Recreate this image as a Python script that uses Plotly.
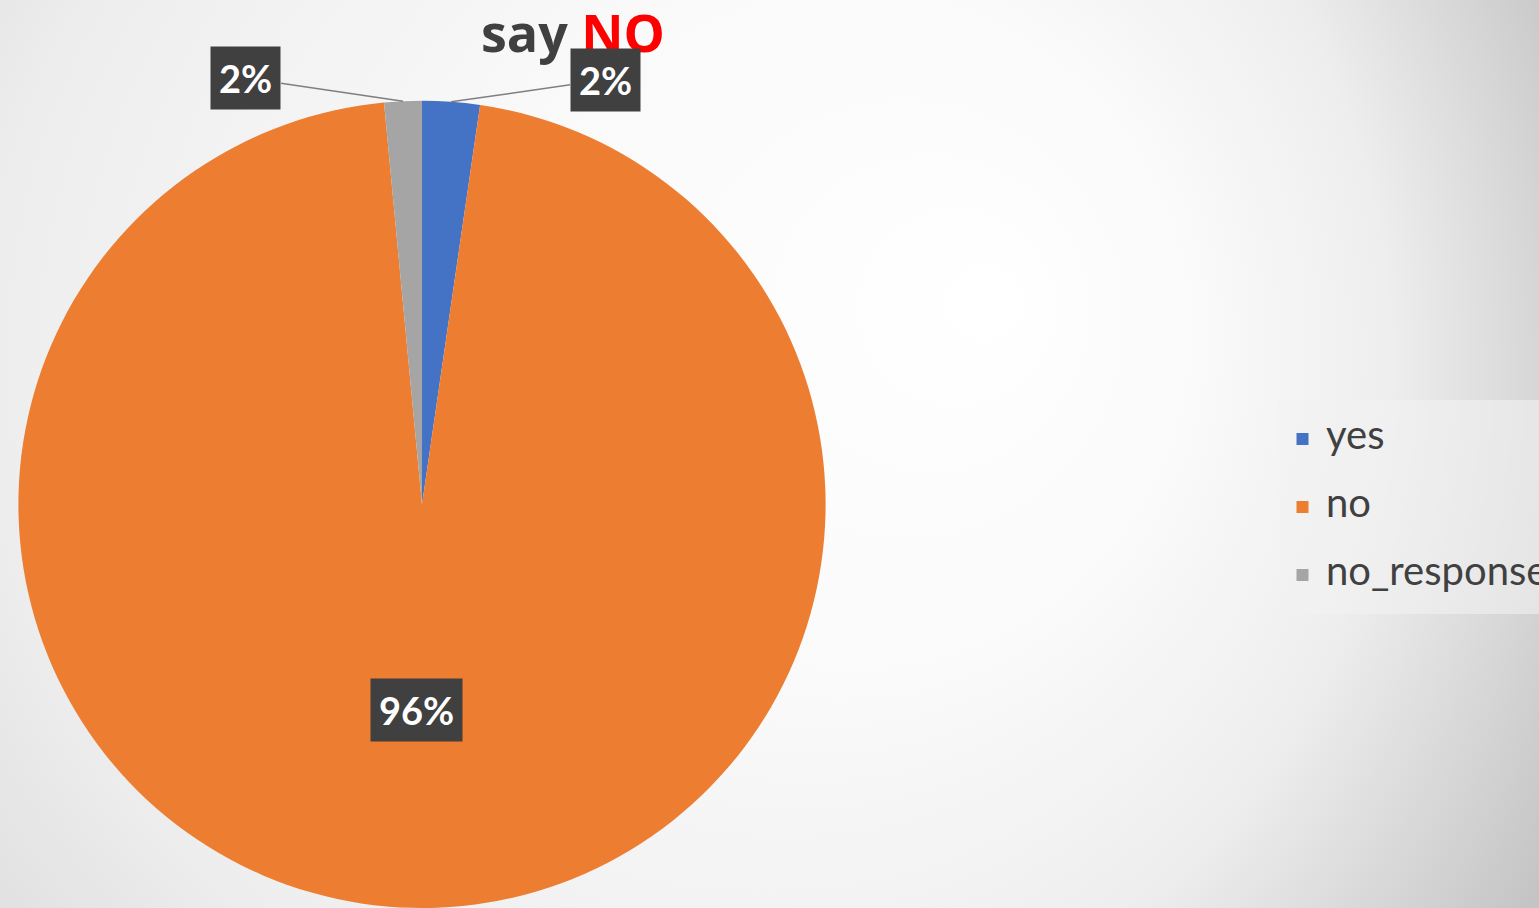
import base64
import math
import plotly.graph_objects as go

# ---- data ----
labels = ["yes", "no", "no_response"]
values = [2.3, 96.2, 1.5]
colors = ["#4472C4", "#ED7D31", "#A5A5A5"]
title_left = "say"
title_right = "NO"

W, H = 1539, 908

# pie geometry (pixels) used for domain and label anchoring
pie_left, pie_right = 17, 827
pie_bottom_paper, pie_top_paper = 0.0, 0.889
cx_px = (pie_left + pie_right) / 2
cy_px = H - (pie_bottom_paper + pie_top_paper) / 2 * H
r_px = min(pie_right - pie_left, (pie_top_paper - pie_bottom_paper) * H) / 2

# background gradient
svg = f"""<svg xmlns='http://www.w3.org/2000/svg' width='{W}' height='{H}' viewBox='0 0 {W} {H}'>
<defs><radialGradient id='g' gradientUnits='userSpaceOnUse' cx='500' cy='400' r='1150' fx='1000' fy='300'>
<stop offset='0' stop-color='#ffffff'/>
<stop offset='0.3' stop-color='#fafafa'/>
<stop offset='0.6' stop-color='#eeeeee'/>
<stop offset='0.85' stop-color='#d4d4d4'/>
<stop offset='1' stop-color='#c4c4c4'/>
</radialGradient></defs>
<rect width='{W}' height='{H}' fill='url(#g)'/></svg>"""
bg_src = "data:image/svg+xml;base64," + base64.b64encode(svg.encode()).decode()

legend_labels = [f"<span style='font-size:40px;baseline-shift:10px'>{l}</span>" for l in labels]

fig = go.Figure(go.Pie(
    labels=legend_labels,
    values=values,
    marker=dict(colors=colors, line=dict(width=0)),
    sort=False,
    direction="clockwise",
    rotation=0,
    textinfo="none",
    hoverinfo="label+percent",
    domain=dict(x=[pie_left / W, pie_right / W], y=[pie_bottom_paper, pie_top_paper]),
))

# data labels, anchored from slice angles
total = sum(values)
cum = 0.0
label_cfg = {
    "yes": dict(radius=1.0, ax=154, ay=-22, arrow=True),
    "no": dict(radius=0.51, ax=0, ay=0, arrow=False),
    "no_response": dict(radius=1.0, ax=-157, ay=-23, arrow=True),
}
annotations = []
for lab, v in zip(labels, values):
    mid = (cum + v / 2) / total * 2 * math.pi
    cum += v
    cfg = label_cfg[lab]
    px = cx_px + cfg["radius"] * r_px * math.sin(mid)
    py = cy_px - cfg["radius"] * r_px * math.cos(mid)
    pct = f"{round(v / total * 100):.0f}%"
    annotations.append(dict(
        x=px / W, y=1 - py / H, xref="paper", yref="paper",
        xanchor="center", yanchor="middle",
        text=f"<b>{pct}</b>",
        showarrow=cfg["arrow"], ax=cfg["ax"], ay=cfg["ay"],
        arrowhead=0, arrowwidth=1.5, arrowcolor="#7f7f7f",
        font=dict(family="Lato", size=38, color="white", weight="bold"),
        bgcolor="#404040", borderpad=8,
    ))

fig.update_layout(
    width=W, height=H,
    margin=dict(l=0, r=0, t=0, b=0, autoexpand=False),
    paper_bgcolor="#e6e6e6",
    title=dict(
        text=f"<b>{title_left} <span style='color:#ff0000'>{title_right}</span></b>",
        x=573 / W, xanchor="center", y=1 - 34 / H, yanchor="middle",
        font=dict(family="Open Sans", size=52, color="#404040", weight="bold"),
    ),
    legend=dict(
        x=1279 / W, xanchor="left", y=1 - 507 / H, yanchor="middle",
        bgcolor="rgba(242,242,242,0.6)",
        itemwidth=37,
        font=dict(family="Lato", size=50, color="#404040"),
    ),
    annotations=annotations,
    images=[dict(source=bg_src, xref="paper", yref="paper", x=0, y=1,
                 sizex=1, sizey=1, sizing="stretch", layer="below")],
)

fig.write_html(
    "out.html",
    config={"displayModeBar": False},
    post_script="document.body.style.margin='0';document.body.style.overflow='hidden';",
)
